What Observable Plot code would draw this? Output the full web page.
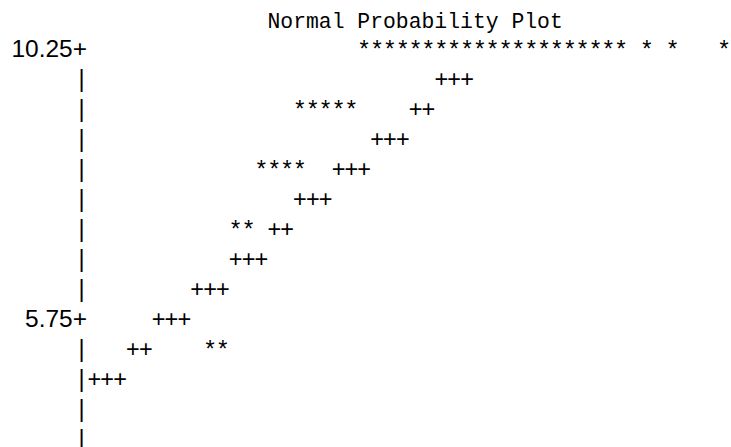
<!DOCTYPE html>
<html>
<head>
<meta charset="utf-8">
<script src="https://cdn.jsdelivr.net/npm/d3@7"></script>
<script src="https://cdn.jsdelivr.net/npm/@observablehq/plot@0.6"></script>
<style>
  html, body { margin: 0; padding: 0; background: #fff; }
  svg { display: block; }
</style>
</head>
<body>
<div id="chart"></div>
<script>
// Observed values (rows of the line-printer grid) and the columns where '*' appears
const starRows = [10.25, 9.25, 8.25, 7.25, 5.25];
const starColumns = [
  [22, 23, 24, 25, 26, 27, 28, 29, 30, 31, 32, 33, 34, 35, 36, 37, 38, 39, 40, 41, 42, 44, 46, 50],
  [17, 18, 19, 20, 21],
  [14, 15, 16, 17],
  [12, 13],
  [10, 11]
];
// Reference normal line, drawn as '+' characters
const refRows = [9.75, 9.25, 8.75, 8.25, 7.75, 7.25, 6.75, 6.25, 5.75, 5.25, 4.75];
const refColumns = [
  [28, 29, 30],
  [26, 27],
  [23, 24, 25],
  [20, 21, 22],
  [17, 18, 19],
  [15, 16],
  [12, 13, 14],
  [9, 10, 11],
  [6, 7, 8],
  [4, 5],
  [1, 2, 3]
];
// Vertical axis
const yTicks = [10.25, 5.75];
const axisBarRows = [9.75, 9.25, 8.75, 8.25, 7.75, 7.25, 6.75, 6.25, 5.25, 4.75, 4.25, 3.75];
const title = "Normal Probability Plot";

const stars = starRows.flatMap((y, i) => starColumns[i].map(x => ({x, y})));
const refs = refRows.flatMap((y, i) => refColumns[i].map(x => ({x, y})));

const glyphFont = "Liberation Sans, Arial, Helvetica, sans-serif";
const glyphSize = 23.5;

const chart = Plot.plot({
  width: 731,
  height: 447,
  marginLeft: 81,
  marginRight: 7.5,
  marginTop: 0,
  marginBottom: 0,
  x: {domain: [0, 50], range: [81, 723.5], axis: null},
  y: {domain: [3.75, 10.25], range: [446, 56], axis: null},
  style: {background: "#fff", color: "#000"},
  marks: [
    Plot.text([title], {
      frameAnchor: "top-left", dx: 186, dy: 27, lineAnchor: "bottom",
      text: d => d, fontFamily: "Liberation Mono, DejaVu Sans Mono, monospace",
      fontSize: 21.4, fill: "#000"
    }),
    Plot.text(yTicks, {
      x: () => 0, y: d => d, text: d => d.toFixed(2) + "+",
      textAnchor: "end", dx: 5.5, lineAnchor: "bottom",
      fontFamily: glyphFont, fontSize: 24.5, fill: "#000"
    }),
    Plot.text(axisBarRows, {
      x: () => 0, y: d => d, text: () => "|", lineAnchor: "bottom",
      fontFamily: glyphFont, fontSize: glyphSize, fill: "#000"
    }),
    Plot.text(refs, {
      x: "x", y: "y", text: () => "+", lineAnchor: "bottom",
      fontFamily: glyphFont, fontSize: glyphSize, fill: "#000"
    }),
    Plot.text(stars, {
      x: "x", y: "y", text: () => "*", lineAnchor: "bottom",
      fontFamily: glyphFont, fontSize: glyphSize, fill: "#000"
    })
  ]
});
document.getElementById("chart").appendChild(chart);
</script>
</body>
</html>
